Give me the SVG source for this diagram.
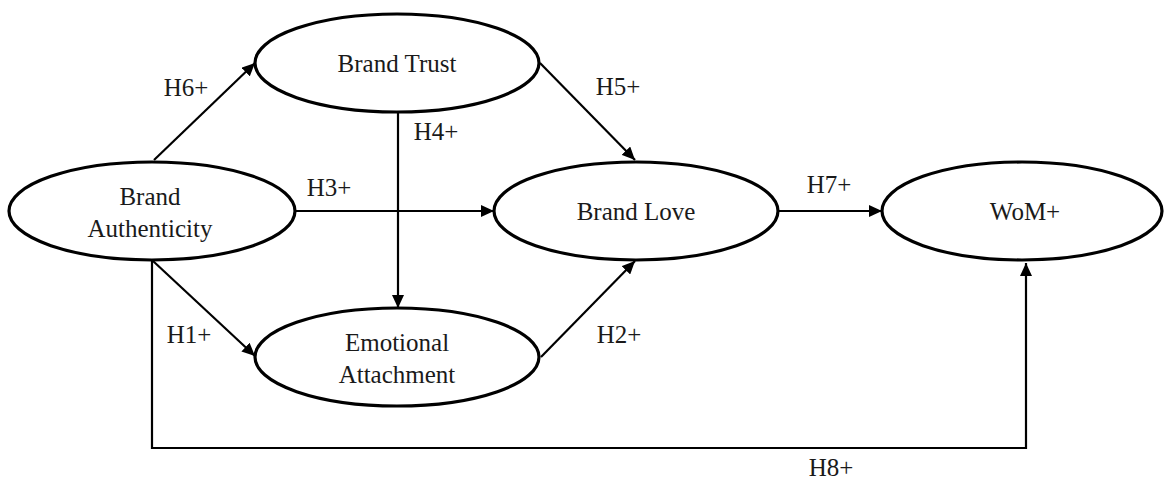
<svg xmlns="http://www.w3.org/2000/svg" width="1164" height="480" viewBox="0 0 1164 480">
  <style>
    .node ellipse { fill: #ffffff; stroke: #000000; stroke-width: 3.2; }
    text { font-family: "Liberation Serif", "Times New Roman", serif; font-size: 25px; fill: #1a1a1a; }
    .lbl { text-anchor: middle; }
    .edge { fill: none; stroke: #000000; stroke-width: 2.2; }
  </style>
  <defs>
    <marker id="arrow" markerUnits="userSpaceOnUse" markerWidth="14" markerHeight="12" refX="13" refY="6" orient="auto">
      <path d="M0,0 L13,6 L0,12 Z" fill="#000000"/>
    </marker>
  </defs>
  <rect width="1164" height="480" fill="#ffffff"/>

  <!-- connectors -->
  <g id="connectors">
    <path class="edge" d="M154,160 L255,63" marker-end="url(#arrow)"/>
    <path class="edge" d="M295,211 L494,211" marker-end="url(#arrow)"/>
    <path class="edge" d="M398,112 L398,308" marker-end="url(#arrow)"/>
    <path class="edge" d="M540,63 L635,160" marker-end="url(#arrow)"/>
    <path class="edge" d="M153,261 L255,356" marker-end="url(#arrow)"/>
    <path class="edge" d="M541,357 L635,261" marker-end="url(#arrow)"/>
    <path class="edge" d="M778,211 L882,211" marker-end="url(#arrow)"/>
    <path class="edge" d="M152,260 L152,448 L1026,448 L1026,263" marker-end="url(#arrow)"/>
  </g>

  <!-- connector labels -->
  <g id="labels">
    <text class="lbl" x="186" y="96">H6+</text>
    <text class="lbl" x="436" y="140">H4+</text>
    <text class="lbl" x="329" y="196">H3+</text>
    <text class="lbl" x="618" y="95">H5+</text>
    <text class="lbl" x="829" y="193">H7+</text>
    <text class="lbl" x="189" y="343">H1+</text>
    <text class="lbl" x="619" y="343">H2+</text>
    <text class="lbl" x="831" y="476">H8+</text>
  </g>

  <g id="brand-authenticity" class="node">
    <ellipse cx="152" cy="211" rx="143" ry="49"/>
    <text class="lbl" x="150" y="205">Brand</text>
    <text class="lbl" x="150" y="237">Authenticity</text>
  </g>
  <g id="brand-trust" class="node">
    <ellipse cx="397" cy="63" rx="142" ry="49"/>
    <text class="lbl" x="397" y="72">Brand Trust</text>
  </g>
  <g id="brand-love" class="node">
    <ellipse cx="636" cy="211" rx="142" ry="49"/>
    <text class="lbl" x="636" y="220">Brand Love</text>
  </g>
  <g id="emotional-attachment" class="node">
    <ellipse cx="397" cy="357" rx="142" ry="49"/>
    <text class="lbl" x="397" y="351">Emotional</text>
    <text class="lbl" x="397" y="383">Attachment</text>
  </g>
  <g id="wom" class="node">
    <ellipse cx="1022" cy="211" rx="140" ry="49"/>
    <text class="lbl" x="1025" y="220">WoM+</text>
  </g>
</svg>
